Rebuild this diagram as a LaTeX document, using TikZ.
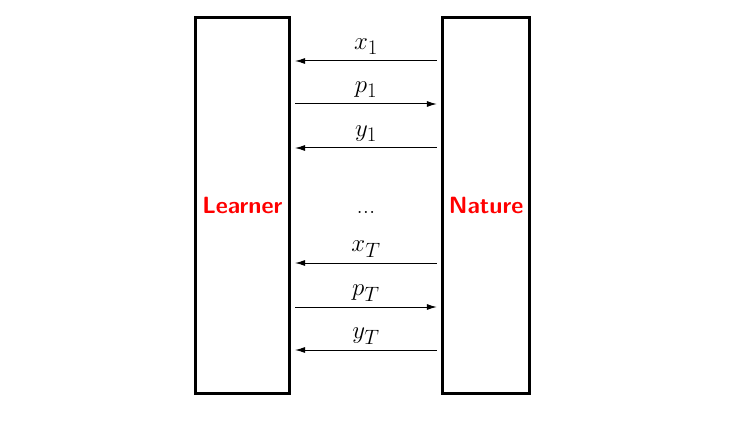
\documentclass[tikz,border=0pt]{standalone}
\usepackage{fix-cm}
\usepackage{amsmath}
\usetikzlibrary{arrows.meta}

\begin{document}
\begin{tikzpicture}[x=1pt,y=-1pt,
        agent/.style={draw, line width=3pt, minimum height=376pt, inner sep=0pt,
            font=\fontsize{23.5}{28}\selectfont\sffamily\bfseries, text=red},
        msg/.style={line width=1pt, -{Latex[length=10pt,width=6pt]}},
        lbl/.style={midway, anchor=base, yshift=11.5pt, font=\Huge}]
        \useasboundingbox (0,0) rectangle (743,422);
        \node[agent, minimum width=93.5pt] (learner) at (242.25,205.5) {Learner};
        \node[agent, minimum width=87pt] (nature) at (486.1,205.5) {Nature};
        \node[font=\Huge, anchor=base] (dots) at (366,213) {...};
        % first round
        \draw[msg] ([xshift=-4.2pt]nature.west |- 0,61) -- ([xshift=4.5pt]learner.east |- 0,61) node[lbl] {$x_1$};
        \draw[msg] ([xshift=4.5pt]learner.east |- 0,104) -- ([xshift=-4.2pt]nature.west |- 0,104) node[lbl] {$p_1$};
        \draw[msg] ([xshift=-4.2pt]nature.west |- 0,148) -- ([xshift=4.5pt]learner.east |- 0,148) node[lbl] {$y_1$};
        % last round
        \draw[msg] ([xshift=-4.2pt]nature.west |- 0,263) -- ([xshift=4.5pt]learner.east |- 0,263) node[lbl] {$x_T$};
        \draw[msg] ([xshift=4.5pt]learner.east |- 0,307) -- ([xshift=-4.2pt]nature.west |- 0,307) node[lbl] {$p_T$};
        \draw[msg] ([xshift=-4.2pt]nature.west |- 0,350) -- ([xshift=4.5pt]learner.east |- 0,350) node[lbl] {$y_T$};
\end{tikzpicture}
\end{document}
